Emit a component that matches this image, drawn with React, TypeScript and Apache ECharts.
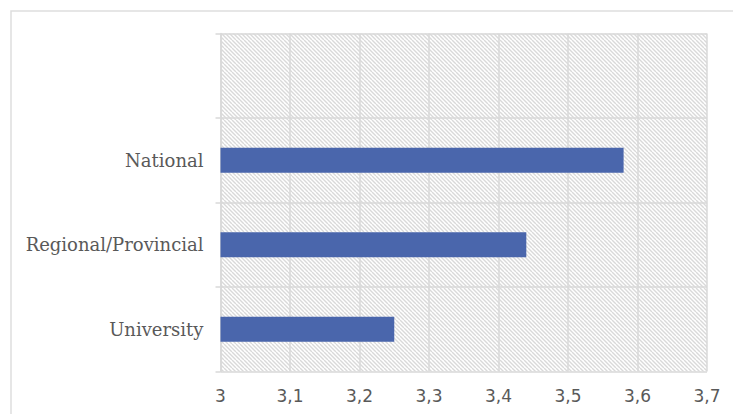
import React, { useEffect, useRef } from "react";
import * as echarts from "echarts";

const categories = ["University", "Regional/Provincial", "National", ""];
const values: (number | null)[] = [3.25, 3.44, 3.58, null];
const xMin = 3;
const xMax = 3.7;
const xStep = 0.1;

function makeHatch(): HTMLCanvasElement {
  const c = document.createElement("canvas");
  c.width = 8;
  c.height = 8;
  const ctx = c.getContext("2d")!;
  ctx.fillStyle = "#ffffff";
  ctx.fillRect(0, 0, 8, 8);
  ctx.strokeStyle = "#d9d9d9";
  ctx.lineWidth = 1.4;
  for (let k = -8; k <= 16; k += 4) {
    ctx.beginPath();
    ctx.moveTo(k, 0);
    ctx.lineTo(k + 8, 8);
    ctx.stroke();
  }
  return c;
}

export default function App() {
  const ref = useRef<HTMLDivElement>(null);
  useEffect(() => {
    if (!ref.current) return;
    const chart = echarts.init(ref.current, undefined, { renderer: "svg" });
    const hatch = makeHatch();
    chart.setOption({
      animation: false,
      backgroundColor: "#ffffff",
      graphic: [
        {
          type: "rect",
          shape: { x: 11, y: 11, width: 800, height: 500 },
          style: { fill: "none", stroke: "#dedede", lineWidth: 1.5 },
          silent: true,
        },
      ],
      grid: {
        left: 220.5,
        right: 26,
        top: 33.5,
        bottom: 42.5,
        show: true,
        borderWidth: 0,
        backgroundColor: { image: hatch, repeat: "repeat" } as any,
      },
      xAxis: {
        type: "value",
        min: xMin,
        max: xMax,
        interval: xStep,
        axisLine: { show: false },
        axisTick: { show: false },
        splitLine: { show: true, lineStyle: { color: "#d9d9d9", width: 1.5 } },
        axisLabel: {
          color: "#595959",
          fontFamily: "DejaVu Sans",
          fontSize: 17,
          margin: 16,
          formatter: (v: number) => String(Math.round(v * 10) / 10).replace(".", ","),
        },
      },
      yAxis: {
        type: "category",
        data: categories,
        axisLine: { show: true, lineStyle: { color: "#d9d9d9", width: 1.5 } },
        axisTick: { show: true, length: 5, lineStyle: { color: "#d9d9d9", width: 1.5 } },
        splitLine: { show: true, lineStyle: { color: "#d9d9d9", width: 1.5 } },
        axisLabel: {
          color: "#595959",
          fontFamily: "DejaVu Serif",
          fontSize: 18,
          margin: 17,
        },
      },
      series: [
        {
          type: "bar",
          data: values,
          barWidth: 25,
          itemStyle: { color: "#4a66ac" },
        },
      ],
    });
    return () => chart.dispose();
  }, []);
  return (
    <div
      ref={ref}
      style={{ position: "fixed", left: 0, top: 0, width: 733, height: 414 }}
    />
  );
}
